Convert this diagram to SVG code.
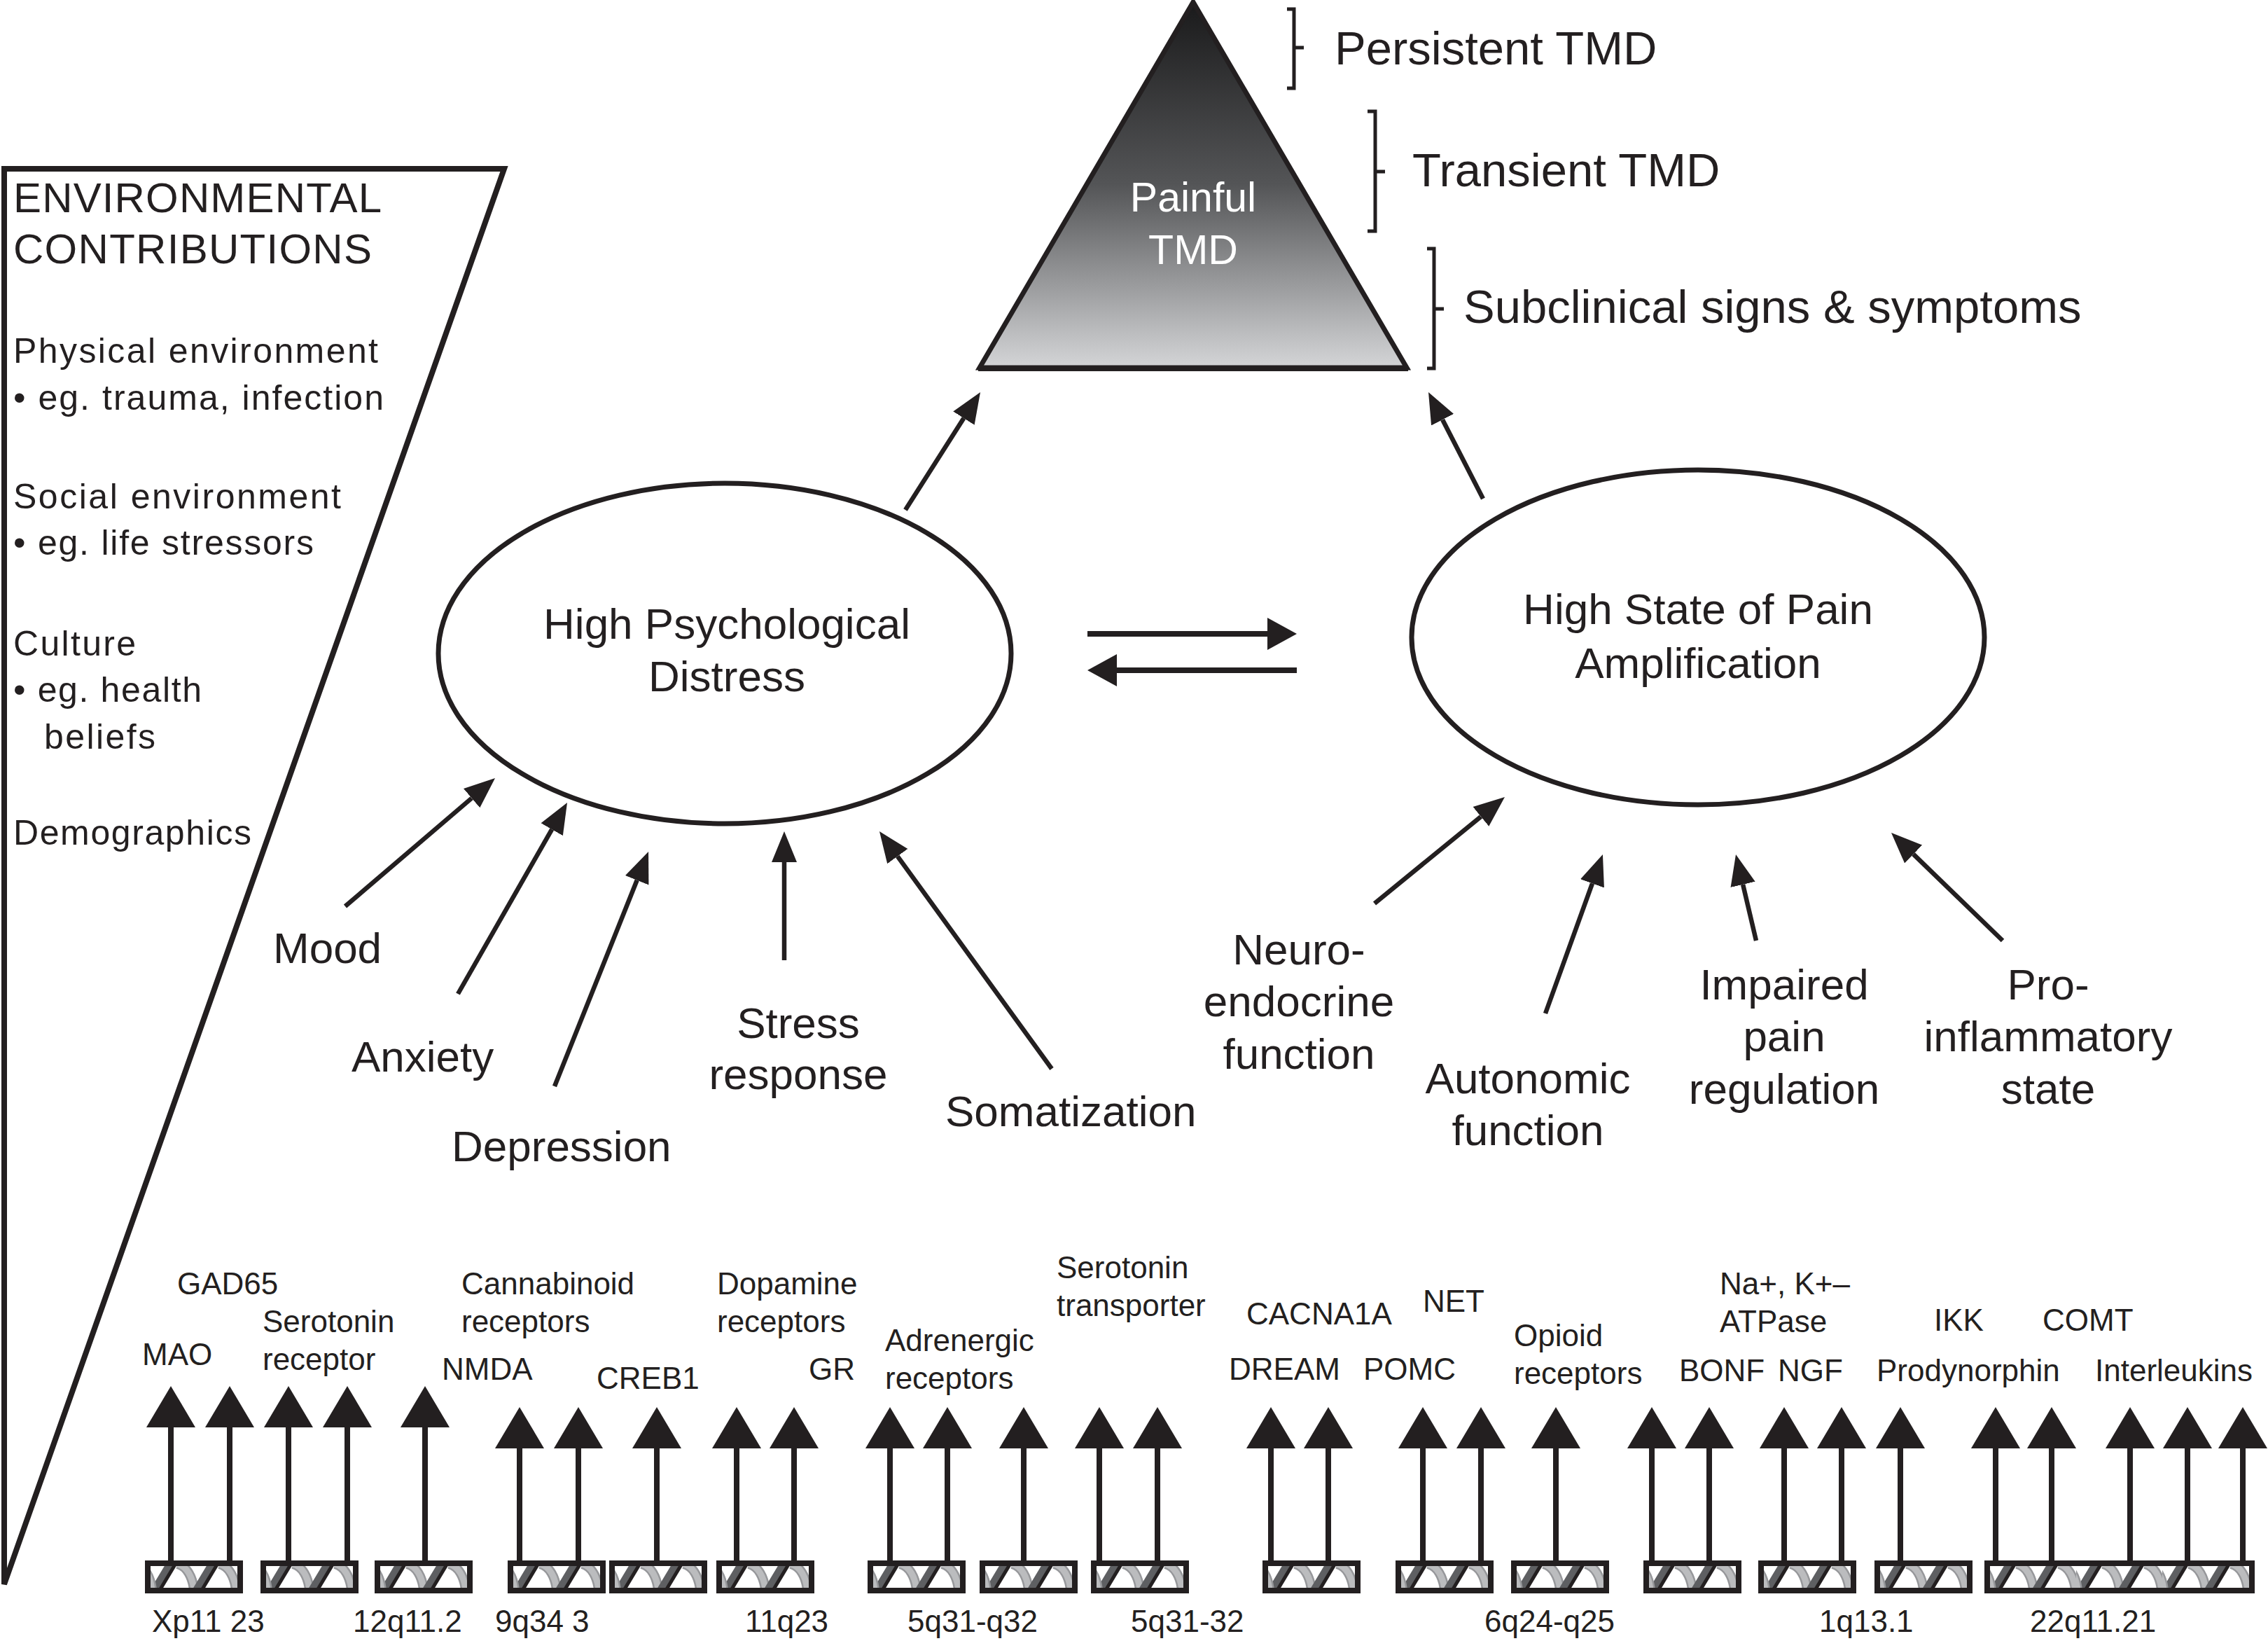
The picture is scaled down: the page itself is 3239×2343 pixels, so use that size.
<svg xmlns="http://www.w3.org/2000/svg" xmlns:xlink="http://www.w3.org/1999/xlink" width="3239" height="2343" viewBox="0 0 3239 2343">
<style>
text{font-family:"Liberation Sans",Arial,Helvetica,sans-serif;fill:#231f20}
.big{font-size:67px}
.main{font-size:62px}
.gene{font-size:44px}
.env{font-size:50px}
.envh{font-size:60px}
.mid{text-anchor:middle}
.ln{stroke:#231f20;fill:none;stroke-width:6.5}
.stem{stroke:#231f20;fill:none;stroke-width:8}
.box{fill:none;stroke:#231f20;stroke-width:8}
.br{stroke:#231f20;fill:none;stroke-width:5}
</style>
<defs>
<linearGradient id="tg" x1="0" y1="0" x2="0" y2="1">
<stop offset="0" stop-color="#1a1a1b"/>
<stop offset="0.5" stop-color="#545557"/>
<stop offset="1" stop-color="#d4d5d7"/>
</linearGradient>
<marker id="ah" markerUnits="userSpaceOnUse" viewBox="0 -19 45 38" markerWidth="45" markerHeight="38" refX="0" refY="0" orient="auto"><path d="M0,-18 L44,0 L0,18 z" fill="#231f20"/></marker>
<marker id="ahb" markerUnits="userSpaceOnUse" viewBox="0 -24 43 48" markerWidth="43" markerHeight="48" refX="0" refY="0" orient="auto"><path d="M0,-23 L42,0 L0,23 z" fill="#231f20"/></marker>
<marker id="gh" markerUnits="userSpaceOnUse" viewBox="0 -36 60 72" markerWidth="60" markerHeight="72" refX="0" refY="0" orient="auto"><path d="M0,-35 L59,0 L0,35 z" fill="#231f20"/></marker>
<clipPath id="inner"><rect x="8" y="8" width="124" height="31"/></clipPath>
<g id="rep">
<path d="M46,5 C60,8 68,24 70,42" stroke="#96979a" stroke-width="14" fill="none"/>
<path d="M46,5 C60,8 68,24 70,42" stroke="#bbbcbe" stroke-width="9" fill="none"/>
<polygon points="8,41 22,41 43,6 29,6" fill="#5e5f62"/>
<line x1="22" y1="41" x2="43" y2="6" stroke="#231f20" stroke-width="5"/>
</g>
<symbol id="dna" viewBox="0 0 140 47" width="140" height="47">
<rect x="8" y="8" width="124" height="31" fill="#fff"/>
<g clip-path="url(#inner)">
<use href="#rep" x="0"/>
<use href="#rep" x="60"/>
<use href="#rep" x="-60"/>
</g>
</symbol>
</defs>
<rect width="3239" height="2343" fill="#fff"/>

<g id="env-box">
<polygon points="6,241 720,241 6,2262" fill="none" stroke="#231f20" stroke-width="8"/>
<text class="envh" x="19" y="303" textLength="526" lengthAdjust="spacing">ENVIRONMENTAL</text>
<text class="envh" x="19" y="376" textLength="512" lengthAdjust="spacing">CONTRIBUTIONS</text>
<text class="env" x="19" y="518" textLength="521" lengthAdjust="spacing">Physical environment</text>
<text class="env" x="19" y="585" textLength="529" lengthAdjust="spacing">• eg. trauma, infection</text>
<text class="env" x="19" y="726" textLength="468" lengthAdjust="spacing">Social environment</text>
<text class="env" x="19" y="792" textLength="429" lengthAdjust="spacing">• eg. life stressors</text>
<text class="env" x="19" y="936" textLength="175" lengthAdjust="spacing">Culture</text>
<text class="env" x="19" y="1002" textLength="269" lengthAdjust="spacing">• eg. health</text>
<text class="env" x="63" y="1069" textLength="159" lengthAdjust="spacing">beliefs</text>
<text class="env" x="19" y="1206" textLength="340" lengthAdjust="spacing">Demographics</text>
</g>

<g id="painful-tmd">
<polygon points="1704,3 2009,525 1399,525" fill="url(#tg)" stroke="#231f20" stroke-width="7"/>
<line x1="1397" y1="526" x2="2011" y2="526" stroke="#231f20" stroke-width="8"/>
<text class="mid" x="1704" y="302" style="font-size:59px;fill:#fff">Painful</text>
<text class="mid" x="1704" y="377" style="font-size:59px;fill:#fff">TMD</text>
</g>

<g id="stage-labels">
<path class="br" d="M1838,13 H1848 V126 H1838 M1848,68 H1862"/>
<text class="big" x="1906" y="92">Persistent TMD</text>
<path class="br" d="M1953,159 H1964 V330 H1953 M1964,245 H1978"/>
<text class="big" x="2017" y="266">Transient TMD</text>
<path class="br" d="M2038,355 H2048 V526 H2038 M2048,441 H2062"/>
<text class="big" x="2090" y="461">Subclinical signs &amp; symptoms</text>
</g>

<g id="psych-distress">
<ellipse cx="1035" cy="933" rx="409" ry="243" fill="none" stroke="#231f20" stroke-width="7"/>
<text class="main mid" x="1038" y="912">High Psychological</text>
<text class="main mid" x="1038" y="987">Distress</text>
</g>

<g id="pain-amplification">
<ellipse cx="2425" cy="910" rx="409" ry="239" fill="none" stroke="#231f20" stroke-width="7"/>
<text class="main mid" x="2425" y="891">High State of Pain</text>
<text class="main mid" x="2425" y="968">Amplification</text>
</g>

<g id="psych-factors">
<text class="main" x="390" y="1375">Mood</text>
<text class="main" x="502" y="1530">Anxiety</text>
<text class="main" x="645" y="1658">Depression</text>
<text class="main mid" x="1140" y="1482">Stress</text>
<text class="main mid" x="1140" y="1555">response</text>
<text class="main" x="1350" y="1608">Somatization</text>
</g>

<g id="pain-factors">
<text class="main mid" x="1855" y="1377">Neuro-</text>
<text class="main mid" x="1855" y="1451">endocrine</text>
<text class="main mid" x="1855" y="1526">function</text>
<text class="main mid" x="2182" y="1561">Autonomic</text>
<text class="main mid" x="2182" y="1635">function</text>
<text class="main mid" x="2548" y="1427">Impaired</text>
<text class="main mid" x="2548" y="1501">pain</text>
<text class="main mid" x="2548" y="1576">regulation</text>
<text class="main mid" x="2925" y="1427">Pro-</text>
<text class="main mid" x="2925" y="1501">inflammatory</text>
<text class="main mid" x="2925" y="1576">state</text>
</g>

<g id="connectors">
<line class="ln" x1="1293" y1="728" x2="1376.4" y2="597.1" marker-end="url(#ah)"/>
<line class="ln" x1="2118" y1="712" x2="2060.1" y2="599.2" marker-end="url(#ah)"/>
<line class="stem" x1="1553" y1="905" x2="1810" y2="905" marker-end="url(#ahb)"/>
<line class="stem" x1="1852" y1="957" x2="1595" y2="957" marker-end="url(#ahb)"/>
<line class="ln" x1="493" y1="1294" x2="673.6" y2="1139.6" marker-end="url(#ah)"/>
<line class="ln" x1="654" y1="1419" x2="788.2" y2="1184.2" marker-end="url(#ah)"/>
<line class="ln" x1="792" y1="1551" x2="909.7" y2="1256.8" marker-end="url(#ah)"/>
<line class="ln" x1="1120" y1="1371" x2="1120" y2="1231" marker-end="url(#ah)"/>
<line class="ln" x1="1502" y1="1526" x2="1281.8" y2="1222.6" marker-end="url(#ah)"/>
<line class="ln" x1="1963" y1="1290" x2="2114.9" y2="1165.9" marker-end="url(#ah)"/>
<line class="ln" x1="2207" y1="1447" x2="2274" y2="1261.4" marker-end="url(#ah)"/>
<line class="ln" x1="2508" y1="1343" x2="2489.1" y2="1262.8" marker-end="url(#ah)"/>
<line class="ln" x1="2860" y1="1343" x2="2732.6" y2="1219.6" marker-end="url(#ah)"/>
<g id="gene-arrows">
<line class="stem" x1="244" y1="2228" x2="244" y2="2038" marker-end="url(#gh)"/>
<line class="stem" x1="328" y1="2228" x2="328" y2="2038" marker-end="url(#gh)"/>
<line class="stem" x1="412" y1="2228" x2="412" y2="2038" marker-end="url(#gh)"/>
<line class="stem" x1="496" y1="2228" x2="496" y2="2038" marker-end="url(#gh)"/>
<line class="stem" x1="607" y1="2228" x2="607" y2="2038" marker-end="url(#gh)"/>
<line class="stem" x1="742" y1="2228" x2="742" y2="2068" marker-end="url(#gh)"/>
<line class="stem" x1="826" y1="2228" x2="826" y2="2068" marker-end="url(#gh)"/>
<line class="stem" x1="938" y1="2228" x2="938" y2="2068" marker-end="url(#gh)"/>
<line class="stem" x1="1052" y1="2228" x2="1052" y2="2068" marker-end="url(#gh)"/>
<line class="stem" x1="1134" y1="2228" x2="1134" y2="2068" marker-end="url(#gh)"/>
<line class="stem" x1="1271" y1="2228" x2="1271" y2="2068" marker-end="url(#gh)"/>
<line class="stem" x1="1353" y1="2228" x2="1353" y2="2068" marker-end="url(#gh)"/>
<line class="stem" x1="1462" y1="2228" x2="1462" y2="2068" marker-end="url(#gh)"/>
<line class="stem" x1="1570" y1="2228" x2="1570" y2="2068" marker-end="url(#gh)"/>
<line class="stem" x1="1653" y1="2228" x2="1653" y2="2068" marker-end="url(#gh)"/>
<line class="stem" x1="1815" y1="2228" x2="1815" y2="2068" marker-end="url(#gh)"/>
<line class="stem" x1="1897" y1="2228" x2="1897" y2="2068" marker-end="url(#gh)"/>
<line class="stem" x1="2032" y1="2228" x2="2032" y2="2068" marker-end="url(#gh)"/>
<line class="stem" x1="2115" y1="2228" x2="2115" y2="2068" marker-end="url(#gh)"/>
<line class="stem" x1="2222" y1="2228" x2="2222" y2="2068" marker-end="url(#gh)"/>
<line class="stem" x1="2359" y1="2228" x2="2359" y2="2068" marker-end="url(#gh)"/>
<line class="stem" x1="2441" y1="2228" x2="2441" y2="2068" marker-end="url(#gh)"/>
<line class="stem" x1="2548" y1="2228" x2="2548" y2="2068" marker-end="url(#gh)"/>
<line class="stem" x1="2630" y1="2228" x2="2630" y2="2068" marker-end="url(#gh)"/>
<line class="stem" x1="2714" y1="2228" x2="2714" y2="2068" marker-end="url(#gh)"/>
<line class="stem" x1="2850" y1="2228" x2="2850" y2="2068" marker-end="url(#gh)"/>
<line class="stem" x1="2930" y1="2228" x2="2930" y2="2068" marker-end="url(#gh)"/>
<line class="stem" x1="3042" y1="2228" x2="3042" y2="2068" marker-end="url(#gh)"/>
<line class="stem" x1="3124" y1="2228" x2="3124" y2="2068" marker-end="url(#gh)"/>
<line class="stem" x1="3203" y1="2228" x2="3203" y2="2068" marker-end="url(#gh)"/>
</g>
</g>

<g id="gene-boxes">
<use href="#dna" x="207" y="2228"/><rect class="box" x="211" y="2232" width="132" height="39"/>
<use href="#dna" x="372" y="2228"/><rect class="box" x="376" y="2232" width="132" height="39"/>
<use href="#dna" x="535" y="2228"/><rect class="box" x="539" y="2232" width="132" height="39"/>
<use href="#dna" x="725" y="2228"/><rect class="box" x="729" y="2232" width="132" height="39"/>
<use href="#dna" x="870" y="2228"/><rect class="box" x="874" y="2232" width="132" height="39"/>
<use href="#dna" x="1023" y="2228"/><rect class="box" x="1027" y="2232" width="132" height="39"/>
<use href="#dna" x="1239" y="2228"/><rect class="box" x="1243" y="2232" width="132" height="39"/>
<use href="#dna" x="1399" y="2228"/><rect class="box" x="1403" y="2232" width="132" height="39"/>
<use href="#dna" x="1558" y="2228"/><rect class="box" x="1562" y="2232" width="132" height="39"/>
<use href="#dna" x="1803" y="2228"/><rect class="box" x="1807" y="2232" width="132" height="39"/>
<use href="#dna" x="1993" y="2228"/><rect class="box" x="1997" y="2232" width="132" height="39"/>
<use href="#dna" x="2158" y="2228"/><rect class="box" x="2162" y="2232" width="132" height="39"/>
<use href="#dna" x="2347" y="2228"/><rect class="box" x="2351" y="2232" width="132" height="39"/>
<use href="#dna" x="2511" y="2228"/><rect class="box" x="2515" y="2232" width="132" height="39"/>
<use href="#dna" x="2677" y="2228"/><rect class="box" x="2681" y="2232" width="132" height="39"/>
<use href="#dna" x="2834" y="2228"/>
<use href="#dna" x="2957" y="2228"/>
<use href="#dna" x="3080" y="2228"/>
<rect class="box" x="2838" y="2232" width="378" height="39"/>
</g>

<g id="gene-labels">
<text class="gene" x="253" y="1848">GAD65</text>
<text class="gene" x="375" y="1902">Serotonin</text>
<text class="gene" x="375" y="1956">receptor</text>
<text class="gene" x="203" y="1949">MAO</text>
<text class="gene" x="659" y="1848">Cannabinoid</text>
<text class="gene" x="659" y="1902">receptors</text>
<text class="gene" x="631" y="1970">NMDA</text>
<text class="gene" x="852" y="1983">CREB1</text>
<text class="gene" x="1024" y="1848">Dopamine</text>
<text class="gene" x="1024" y="1902">receptors</text>
<text class="gene" x="1155" y="1970">GR</text>
<text class="gene" x="1264" y="1929">Adrenergic</text>
<text class="gene" x="1264" y="1983">receptors</text>
<text class="gene" x="1509" y="1825">Serotonin</text>
<text class="gene" x="1509" y="1879">transporter</text>
<text class="gene" x="1780" y="1891">CACNA1A</text>
<text class="gene" x="2032" y="1873">NET</text>
<text class="gene" x="1755" y="1970">DREAM</text>
<text class="gene" x="1947" y="1970">POMC</text>
<text class="gene" x="2162" y="1922">Opioid</text>
<text class="gene" x="2162" y="1976">receptors</text>
<text class="gene" x="2456" y="1848">Na+, K+–</text>
<text class="gene" x="2456" y="1902">ATPase</text>
<text class="gene" x="2398" y="1972">BONF</text>
<text class="gene" x="2539" y="1972">NGF</text>
<text class="gene" x="2762" y="1900">IKK</text>
<text class="gene" x="2917" y="1900">COMT</text>
<text class="gene" x="2680" y="1972">Prodynorphin</text>
<text class="gene" x="2992" y="1972">Interleukins</text>
<text class="gene" x="217" y="2330">Xp11 23</text>
<text class="gene" x="504" y="2330">12q11.2</text>
<text class="gene" x="707" y="2330">9q34 3</text>
<text class="gene" x="1064" y="2330">11q23</text>
<text class="gene" x="1296" y="2330">5q31-q32</text>
<text class="gene" x="1615" y="2330">5q31-32</text>
<text class="gene" x="2120" y="2330">6q24-q25</text>
<text class="gene" x="2598" y="2330">1q13.1</text>
<text class="gene" x="2899" y="2330">22q11.21</text>
</g>
</svg>
